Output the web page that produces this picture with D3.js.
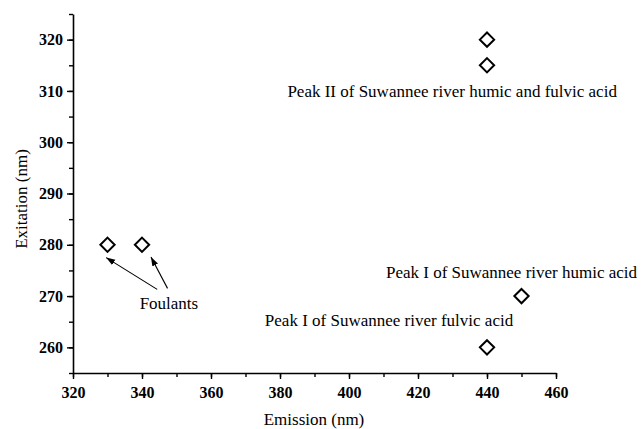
<!DOCTYPE html>
<html><head><meta charset="utf-8">
<script src="https://cdn.jsdelivr.net/npm/d3@7"></script>
<style>body{margin:0;background:#fff}svg{display:block}text{font-family:"Liberation Serif","Times New Roman",serif}</style>
</head><body>
<script>
const emission = [330, 340, 440, 440, 450, 440];
const excitation = [280, 280, 320, 315, 270, 260];
const xTicks = [320, 340, 360, 380, 400, 420, 440, 460];
const yTicks = [260, 270, 280, 290, 300, 310, 320];
const labels = [
  {text: "Peak II of Suwannee river humic and fulvic acid", x: 429.9, y: 308.8},
  {text: "Peak I of Suwannee river humic acid", x: 447.1, y: 273.5},
  {text: "Peak I of Suwannee river fulvic acid", x: 411.6, y: 264.2},
  {text: "Foulants", x: 347.8, y: 267.5}
];
const arrows = [
  {x1: 344.4, y1: 271.3, x2: 329.6, y2: 277.5},
  {x1: 347.4, y1: 271.5, x2: 342.6, y2: 277.6}
];

const W = 642, H = 429;
const m = {l: 73, t: 14, r: 86, b: 56};
const svg = d3.select("body").append("svg").attr("width", W).attr("height", H);
const x = d3.scaleLinear().domain([320, 460]).range([m.l, W - m.r]);
const y = d3.scaleLinear().domain([255, 325]).range([H - m.b, m.t]);

const defs = svg.append("defs");
defs.append("marker").attr("id", "ah").attr("viewBox", "0 0 10 10").attr("refX", 10).attr("refY", 5)
  .attr("markerWidth", 9).attr("markerHeight", 9).attr("markerUnits", "userSpaceOnUse").attr("orient", "auto")
  .append("path").attr("d", "M0,1.5 L10,5 L0,8.5 Z").attr("fill", "#000");

// x axis
const gx = svg.append("g").attr("transform", `translate(0,${H - m.b})`);
gx.call(d3.axisBottom(x).tickValues(d3.range(320, 461, 10)).tickSize(4).tickFormat(""));
gx.call(g => g.select(".domain").remove());
const gx2 = svg.append("g").attr("transform", `translate(0,${H - m.b})`)
  .call(d3.axisBottom(x).tickValues(xTicks).tickSize(6).tickSizeOuter(0).tickFormat(d3.format("d")));
gx2.selectAll("text").attr("font-size", 16).attr("font-weight", "bold").attr("dy", "1.0em")
  .style("font-family", "'Liberation Serif',serif");

// y axis
const gy = svg.append("g").attr("transform", `translate(${m.l},0)`);
gy.call(d3.axisLeft(y).tickValues(d3.range(255, 326, 5)).tickSize(4).tickFormat(""));
gy.call(g => g.select(".domain").remove());
const gy2 = svg.append("g").attr("transform", `translate(${m.l},0)`)
  .call(d3.axisLeft(y).tickValues(yTicks).tickSize(6).tickSizeOuter(0).tickFormat(d3.format("d")));
gy2.selectAll("text").attr("font-size", 16).attr("font-weight", "bold").attr("x", -10)
  .style("font-family", "'Liberation Serif',serif");
svg.selectAll(".domain").attr("stroke-width", 1.6);
svg.selectAll(".tick line").attr("stroke-width", 1.4);

// titles
svg.append("text").attr("x", 314).attr("y", 425).attr("text-anchor", "middle")
  .attr("font-size", 17).text("Emission (nm)");
svg.append("text").attr("transform", `translate(27,199) rotate(-90)`)
  .attr("text-anchor", "middle").attr("font-size", 17).text("Exitation (nm)");

// points
const sym = d3.symbol().type(d3.symbolDiamond2).size(130);
svg.append("g").selectAll("path").data(emission).join("path")
  .attr("d", sym).attr("transform", (d, i) => `translate(${x(d)},${y(excitation[i])})`)
  .attr("fill", "none").attr("stroke", "#000").attr("stroke-width", 2);

// labels
svg.append("g").selectAll("text").data(labels).join("text")
  .attr("x", d => x(d.x)).attr("y", d => y(d.y)).attr("text-anchor", "middle")
  .attr("font-size", 17).text(d => d.text);

// arrows
svg.append("g").selectAll("line").data(arrows).join("line")
  .attr("x1", d => x(d.x1)).attr("y1", d => y(d.y1)).attr("x2", d => x(d.x2)).attr("y2", d => y(d.y2))
  .attr("stroke", "#000").attr("stroke-width", 1.1).attr("marker-end", "url(#ah)");
</script>
</body></html>
